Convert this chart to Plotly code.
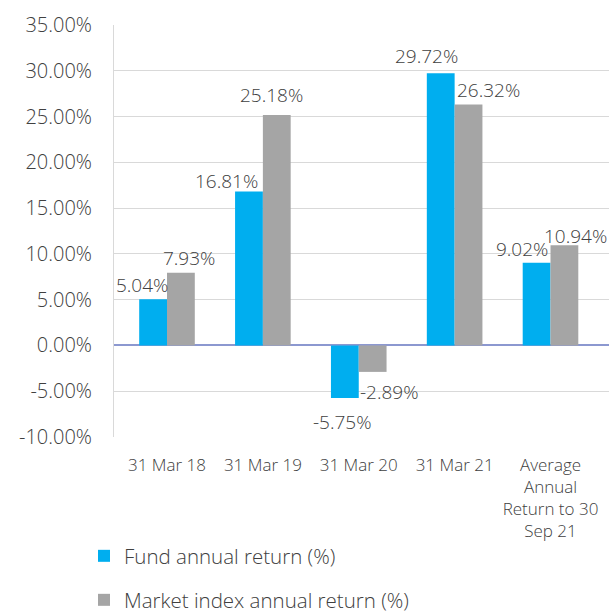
import plotly.graph_objects as go

categories = ["31 Mar 18", "31 Mar 19", "31 Mar 20", "31 Mar 21",
              "Average<br>Annual<br>Return to 30<br>Sep 21"]
fund_returns = [5.04, 16.81, -5.75, 29.72, 9.02]
market_returns = [7.93, 25.18, -2.89, 26.32, 10.94]
fund_name = "Fund annual return (%)"
market_name = "Market index annual return (%)"
y_ticks = [-10, -5, 0, 5, 10, 15, 20, 25, 30, 35]

# label offsets (pixels) relative to category centre / bar end
fund_dx = [-25, -36, -16, -28, -29]
fund_dy = [14, 11, -24, 17, 14]
market_dx = [22, 9, 31, 34, 25]
market_dy = [15, 20, -20, 14, 9]

FUND_C = "#00AEEF"
MKT_C = "#A5A5A5"
TXT = "#404040"
FONT = "Open Sans"

W, H = 609, 612
fig = go.Figure()
fig.add_trace(go.Bar(x=categories, y=fund_returns, name=fund_name, showlegend=True,
                     marker=dict(color=FUND_C, line=dict(width=0)), legend="legend"))
fig.add_trace(go.Bar(x=categories, y=market_returns, name=market_name, showlegend=True,
                     marker=dict(color=MKT_C, line=dict(width=0)), legend="legend2"))

annotations = []
for c, v, dx, dy in zip(categories, fund_returns, fund_dx, fund_dy):
    annotations.append(dict(x=c, y=v, xref="x", yref="y", text=f"{v:.2f}%",
                            showarrow=False, xshift=dx, yshift=dy,
                            xanchor="center", yanchor="middle",
                            font=dict(family=FONT, size=19, color=TXT, weight=300)))
for c, v, dx, dy in zip(categories, market_returns, market_dx, market_dy):
    annotations.append(dict(x=c, y=v, xref="x", yref="y", text=f"{v:.2f}%",
                            showarrow=False, xshift=dx, yshift=dy,
                            xanchor="center", yanchor="middle",
                            font=dict(family=FONT, size=19, color=TXT, weight=300)))

legend_style = dict(xref="container", yref="container", xanchor="left", yanchor="middle",
                    bgcolor="rgba(0,0,0,0)", visible=True,
                    font=dict(family=FONT, size=20.5, color=TXT, weight=300))

fig.update_layout(
    width=W, height=H,
    margin=dict(l=114, r=0, t=25, b=175, autoexpand=False),
    paper_bgcolor="white", plot_bgcolor="white",
    barmode="group", bargap=0.42, bargroupgap=0,
    showlegend=True,
    font=dict(family=FONT, color=TXT, weight=300),
    annotations=annotations,
    legend=dict(x=84 / W, y=1 - 556 / H, **legend_style),
    legend2=dict(x=84 / W, y=1 - 600 / H, **legend_style),
    xaxis=dict(showgrid=False, showline=False, ticks="", tickangle=0,
               tickfont=dict(family=FONT, size=17, color=TXT, weight=300),
               ticklabelstandoff=16, automargin=False),
    yaxis=dict(range=[-10, 35], tickvals=y_ticks,
               ticktext=[f"{t:.2f}%" for t in y_ticks],
               showgrid=True, gridcolor="#D9D9D9", gridwidth=1,
               zeroline=True, zerolinecolor="#8C98D0", zerolinewidth=1.5,
               showline=True, linecolor="#D9D9D9", linewidth=1,
               ticks="", ticklabelstandoff=17, automargin=False,
               tickfont=dict(family=FONT, size=20, color=TXT, weight=300)),
)

fig.write_html("out.html", config={"displayModeBar": False},
               post_script="document.body.style.margin='0';document.body.style.overflow='hidden';")
